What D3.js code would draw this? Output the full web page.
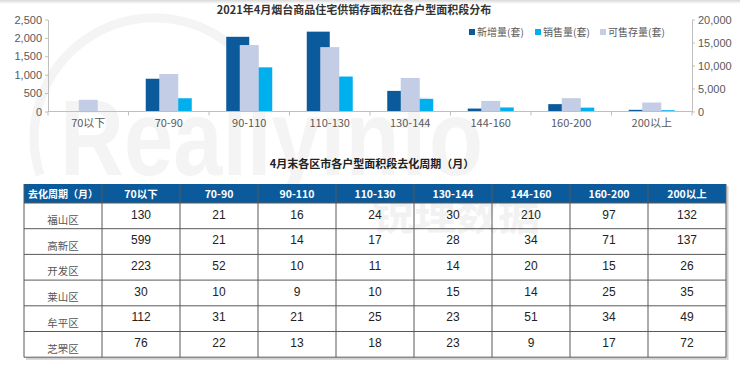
<!DOCTYPE html>
<html>
<head>
<meta charset="utf-8">
<script src="https://cdn.jsdelivr.net/npm/d3@7"></script>
<style>
  body { margin: 0; background: #fff; }
  svg { display: block; font-family: "Noto Sans CJK SC", "Noto Sans", sans-serif; }
</style>
</head>
<body>
<svg id="chart" width="740" height="369"></svg>
<script>
// chart data
const categories = ["70以下", "70-90", "90-110", "110-130", "130-144", "144-160", "160-200", "200以上"];
const newSupply = [0, 890, 2030, 2170, 560, 80, 200, 45];      // 新增量(套), left axis
const sales = [0, 360, 1200, 950, 345, 110, 105, 35];          // 销售量(套), left axis
const stock = [2550, 8150, 14450, 14000, 7300, 2300, 2900, 1950]; // 可售存量(套), right axis
const leftTicks = [0, 500, 1000, 1500, 2000, 2500];
const rightTicks = [0, 5000, 10000, 15000, 20000];

// table data
const tableHeader = ["去化周期（月）", "70以下", "70-90", "90-110", "110-130", "130-144", "144-160", "160-200", "200以上"];
const districts = ["福山区", "高新区", "开发区", "莱山区", "牟平区", "芝罘区"];
const cycles = [
  [130, 21, 16, 24, 30, 210, 97, 132],
  [599, 21, 14, 17, 28, 34, 71, 137],
  [223, 52, 10, 11, 14, 20, 15, 26],
  [30, 10, 9, 10, 15, 14, 25, 35],
  [112, 31, 21, 25, 23, 51, 34, 49],
  [76, 22, 13, 18, 23, 9, 17, 72]
];

const colors = { dark: "#0a5a9c", cyan: "#00b0ee", lav: "#c3cde5" };
const svg = d3.select("#chart");

// top shadow
const defs = svg.append("defs");
const grad = defs.append("linearGradient").attr("id", "topShade").attr("x1", 0).attr("x2", 0).attr("y1", 0).attr("y2", 1);
grad.append("stop").attr("offset", "0%").attr("stop-color", "#d9d9d9");
grad.append("stop").attr("offset", "100%").attr("stop-color", "#fff");
svg.append("rect").attr("x", 0).attr("y", 0).attr("width", 740).attr("height", 4).attr("fill", "url(#topShade)");

// faint watermark
svg.append("path")
  .attr("d", "M 40 175 A 120 120 0 0 1 230 45")
  .attr("fill", "none").attr("stroke", "#f4f4f4").attr("stroke-width", 9);
svg.append("text")
  .attr("x", 60).attr("y", 175)
  .attr("font-family", "Liberation Sans, sans-serif")
  .attr("font-weight", "bold")
  .attr("font-size", 108)
  .attr("textLength", 423).attr("lengthAdjust", "spacingAndGlyphs")
  .attr("fill", "#f4f4f4")
  .text("Reallyinfo");
svg.append("text")
  .attr("x", 372).attr("y", 230)
  .attr("font-weight", "bold")
  .attr("font-size", 42)
  .attr("fill", "#f2f2f2")
  .text("锐理数据");

// ---- bar chart ----
const plotLeft = 48, plotRight = 692, plotTop = 19.5, plotBottom = 111.5;

const x = d3.scaleBand().domain(categories).range([plotLeft, plotRight]);
const x1 = d3.scaleBand().domain(["new", "sales"]).range([0, x.bandwidth()]).paddingOuter(0.75);
const x2 = d3.scaleBand().domain(["stock"]).range([0, x.bandwidth()]).padding(0.618);
const yL = d3.scaleLinear().domain([0, 2500]).range([plotBottom, plotTop]);
const yR = d3.scaleLinear().domain([0, 20000]).range([plotBottom, plotTop]);

svg.append("text")
  .attr("x", 354).attr("y", 14)
  .attr("text-anchor", "middle")
  .attr("font-size", 11).attr("font-weight", "bold").attr("fill", "#333")
  .text("2021年4月烟台商品住宅供销存面积在各户型面积段分布");

const bars = svg.append("g");
categories.forEach((c, i) => {
  bars.append("rect")
    .attr("x", x(c) + x1("new")).attr("width", x1.bandwidth())
    .attr("y", yL(newSupply[i])).attr("height", plotBottom - yL(newSupply[i]))
    .attr("fill", colors.dark);
  bars.append("rect")
    .attr("x", x(c) + x1("sales")).attr("width", x1.bandwidth())
    .attr("y", yL(sales[i])).attr("height", plotBottom - yL(sales[i]))
    .attr("fill", colors.cyan);
});
categories.forEach((c, i) => {
  bars.append("rect")
    .attr("x", x(c) + x2("stock")).attr("width", x2.bandwidth())
    .attr("y", yR(stock[i])).attr("height", plotBottom - yR(stock[i]))
    .attr("fill", colors.lav);
});

function styleAxis(g) {
  g.select(".domain").attr("stroke", "#bfbfbf");
  g.selectAll(".tick line").attr("stroke", "#bfbfbf");
  g.selectAll(".tick text").attr("fill", "#595959").attr("font-size", 11)
    .attr("font-family", "Liberation Sans, sans-serif");
}

svg.append("g")
  .attr("transform", `translate(${plotLeft},0)`)
  .call(d3.axisLeft(yL).tickValues(leftTicks).tickSize(3).tickPadding(3).tickSizeOuter(0))
  .call(styleAxis);

svg.append("g")
  .attr("transform", `translate(${plotRight},0)`)
  .call(d3.axisRight(yR).tickValues(rightTicks).tickSize(3).tickPadding(3).tickSizeOuter(0))
  .call(styleAxis);

// category axis with separators between groups
const xAxis = svg.append("g").attr("transform", `translate(0,${plotBottom})`);
xAxis.append("line").attr("x1", plotLeft).attr("x2", plotRight).attr("stroke", "#bfbfbf");
xAxis.selectAll("line.sep")
  .data(d3.range(categories.length + 1))
  .join("line")
  .attr("class", "sep")
  .attr("x1", i => plotLeft + i * x.step()).attr("x2", i => plotLeft + i * x.step())
  .attr("y1", 0).attr("y2", 4)
  .attr("stroke", "#bfbfbf");
xAxis.selectAll("text")
  .data(categories)
  .join("text")
  .attr("x", d => x(d) + x.bandwidth() / 2)
  .attr("y", 15)
  .attr("text-anchor", "middle")
  .attr("font-size", 11).attr("fill", "#595959")
  .text(d => d);

// legend
const legendItems = [
  { label: "新增量(套)", color: colors.dark, x: 469 },
  { label: "销售量(套)", color: colors.cyan, x: 535 },
  { label: "可售存量(套)", color: colors.lav, x: 600 }
];
const legend = svg.append("g");
legend.selectAll("rect")
  .data(legendItems)
  .join("rect")
  .attr("x", d => d.x).attr("y", 29)
  .attr("width", 6).attr("height", 6)
  .attr("fill", d => d.color);
legend.selectAll("text")
  .data(legendItems)
  .join("text")
  .attr("x", d => d.x + 8).attr("y", 36)
  .attr("font-size", 10).attr("fill", "#595959")
  .text(d => d.label);

// ---- table ----
svg.append("text")
  .attr("x", 372).attr("y", 168)
  .attr("text-anchor", "middle")
  .attr("font-size", 11).attr("font-weight", "bold").attr("fill", "#222")
  .text("4月末各区市各户型面积段去化周期（月）");

const tLeft = 24, tRight = 726, headTop = 184, headBottom = 203, rowH = 25.7;
const col = d3.scaleBand().domain(d3.range(tableHeader.length)).range([tLeft, tRight]);
const row = d3.scaleBand().domain(d3.range(districts.length)).range([headBottom, headBottom + rowH * districts.length]);
const tBottom = headBottom + rowH * districts.length;

const table = svg.append("g");
// light shadow along right and bottom edge
table.append("path")
  .attr("d", `M ${tRight + 1.5} ${headTop + 2} V ${tBottom + 1.5} H ${tLeft + 2}`)
  .attr("fill", "none").attr("stroke", "#cfcfcf").attr("stroke-width", 2);
table.append("rect")
  .attr("x", tLeft).attr("y", headTop)
  .attr("width", tRight - tLeft).attr("height", headBottom - headTop)
  .attr("fill", colors.dark);

// grid lines
table.selectAll("line.h")
  .data(d3.range(districts.length + 1))
  .join("line")
  .attr("class", "h")
  .attr("x1", tLeft).attr("x2", tRight)
  .attr("y1", i => headBottom + i * rowH).attr("y2", i => headBottom + i * rowH)
  .attr("stroke", "#595959");
table.selectAll("line.v")
  .data(d3.range(tableHeader.length + 1))
  .join("line")
  .attr("class", "v")
  .attr("x1", i => tLeft + i * col.step()).attr("x2", i => tLeft + i * col.step())
  .attr("y1", headTop).attr("y2", tBottom)
  .attr("stroke", "#595959");

table.selectAll("text.head")
  .data(tableHeader)
  .join("text")
  .attr("class", "head")
  .attr("x", (d, i) => col(i) + col.bandwidth() / 2)
  .attr("y", headTop + 13.5)
  .attr("text-anchor", "middle")
  .attr("font-size", (d, i) => i === 0 ? 10 : 10.5)
  .attr("font-weight", "bold").attr("fill", "#fff")
  .text(d => d);

districts.forEach((name, r) => {
  table.append("text")
    .attr("x", col(0) + col.bandwidth() / 2)
    .attr("y", row(r) + 21)
    .attr("text-anchor", "middle")
    .attr("font-size", 10.5).attr("fill", "#555")
    .text(name);
  table.selectAll(null)
    .data(cycles[r])
    .join("text")
    .attr("x", (d, i) => col(i + 1) + col.bandwidth() / 2)
    .attr("y", row(r) + 15.5)
    .attr("text-anchor", "middle")
    .attr("font-size", 12).attr("fill", "#222")
    .attr("font-family", "Liberation Sans, sans-serif")
    .text(d => d);
});
</script>
</body>
</html>
